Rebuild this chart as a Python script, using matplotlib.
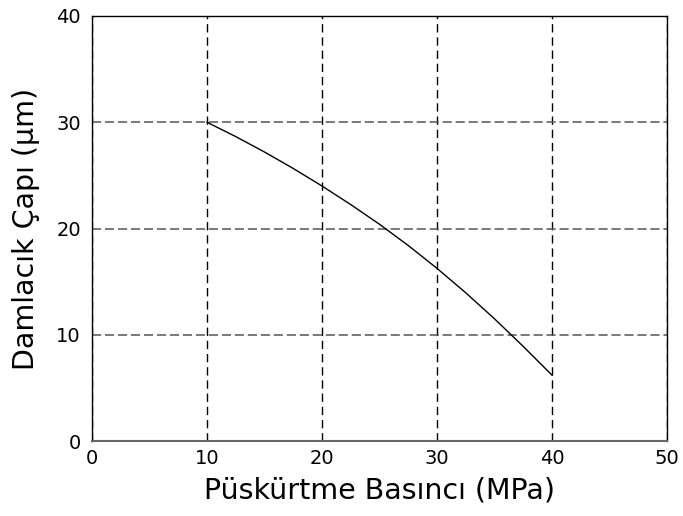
import matplotlib
matplotlib.use("Agg")
import matplotlib.pyplot as plt

# pressure (MPa) vs droplet diameter (um)
basinc = [10, 12.5, 15, 17.5, 20, 22.5, 25, 27.5, 30, 32.5, 35, 37.5, 40]
cap = [30.0, 28.65, 27.2, 25.65, 24.0, 22.25, 20.4, 18.4, 16.25, 13.95, 11.5, 8.9, 6.2]

x_ticks = [0, 10, 20, 30, 40, 50]
y_ticks = [0, 10, 20, 30, 40]

plt.rcParams['font.family'] = ['DejaVu Sans']

fig = plt.figure(figsize=(6.83, 5.16), dpi=100)
ax = fig.add_axes([0.1347, 0.1453, 0.8419, 0.8237])

ax.plot(basinc, cap, color='black', linewidth=1.0)

ax.set_xlim(0, 50)
ax.set_ylim(0, 40)
ax.set_xticks(x_ticks)
ax.set_yticks(y_ticks)
ax.tick_params(length=0, labelsize=14)
ax.tick_params(axis='x', pad=6)
ax.tick_params(axis='y', pad=8)

# grid: vertical black dashes, horizontal grey dashes
ax.xaxis.grid(True, color='black', linewidth=1.0, dashes=(6, 3.5))
ax.yaxis.grid(True, color='#555555', linewidth=1.1, dashes=(6, 2.5))

for side in ['top', 'right', 'left']:
    ax.spines[side].set_color('black')
    ax.spines[side].set_linewidth(1.0)
ax.spines['bottom'].set_color('#666666')
ax.spines['bottom'].set_linewidth(1.5)

ax.set_xlabel("Püskürtme Basıncı (MPa)", fontsize=20.5, labelpad=6)
ax.set_ylabel("Damlacık Çapı (µm)", fontsize=20.5, labelpad=12)

fig.savefig("out.png", dpi=100)
